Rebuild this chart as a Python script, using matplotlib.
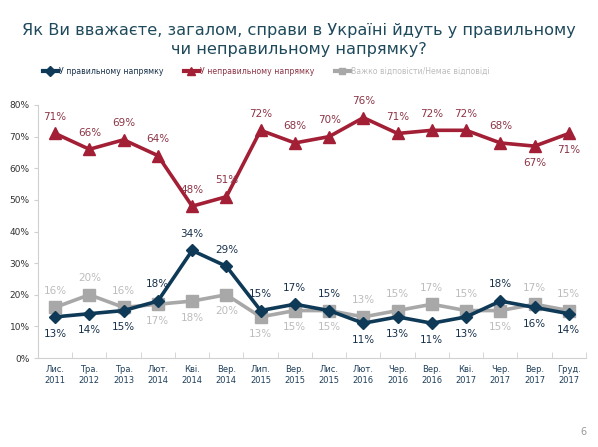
import numpy as np
import matplotlib.pyplot as plt
from matplotlib.lines import Line2D

# Data
periods = ["Лис.\n2011", "Тра.\n2012", "Тра.\n2013", "Лют.\n2014", "Кві.\n2014", "Вер.\n2014",
           "Лип.\n2015", "Вер.\n2015", "Лис.\n2015", "Лют.\n2016", "Чер.\n2016", "Вер.\n2016",
           "Кві.\n2017", "Чер.\n2017", "Вер.\n2017", "Груд.\n2017"]
right_dir = [13, 14, 15, 18, 34, 29, 15, 17, 15, 11, 13, 11, 13, 18, 16, 14]
wrong_dir = [71, 66, 69, 64, 48, 51, 72, 68, 70, 76, 71, 72, 72, 68, 67, 71]
hard_say = [16, 20, 16, 17, 18, 20, 13, 15, 15, 13, 15, 17, 15, 15, 17, 15]

# label side: 1 above, -1 below
right_side = [-1, -1, -1, 1, 1, 1, 1, 1, 1, -1, -1, -1, -1, 1, -1, -1]
wrong_side = [1, 1, 1, 1, 1, 1, 1, 1, 1, 1, 1, 1, 1, 1, -1, -1]
hard_side = [1, 1, 1, -1, -1, -1, -1, -1, -1, 1, 1, 1, 1, -1, 1, 1]

c_right = "#0f3a57"
c_wrong = "#a21f35"
c_hard = "#a8a8a8"

plt.rcParams["font.family"] = ["DejaVu Sans"]

fig = plt.figure(figsize=(5.98, 4.47), dpi=100)
ax = fig.add_axes([38 / 598, (447 - 358) / 447, (586 - 38) / 598, (358 - 105) / 447])

x = np.arange(len(periods))

ax.plot(x, hard_say, color=c_hard, lw=2.6, marker="s", ms=8, zorder=2)
ax.plot(x, right_dir, color=c_right, lw=2.6, marker="D", ms=6.5, zorder=3)
ax.plot(x, wrong_dir, color=c_wrong, lw=2.6, marker="^", ms=9, zorder=3)

def put_labels(vals, sides, color):
    for xi, v, s in zip(x, vals, sides):
        ax.annotate(f"{v}%", (xi, v), xytext=(0, 12 * s), textcoords="offset points",
                    ha="center", va="center", fontsize=7.5, color=color, zorder=5)

put_labels(right_dir, right_side, "#17304a")
put_labels(wrong_dir, wrong_side, "#8c3446")
put_labels(hard_say, hard_side, "#bcbcbc")

ax.set_xlim(-0.5, len(periods) - 0.5)
ax.set_ylim(0, 80)
ax.set_yticks(range(0, 81, 10))
ax.set_yticklabels([f"{t}%" for t in range(0, 81, 10)], fontsize=6.5, color="#333333")
ax.set_xticks(x)
ax.set_xticklabels(periods, fontsize=6, color="#1f3f5a", linespacing=1.3)
ax.set_xticks(np.arange(-0.5, len(periods), 1), minor=True)
ax.tick_params(axis="x", which="major", length=0, pad=5)
ax.tick_params(axis="x", which="minor", length=4, direction="in", color="#d0d0d0")
ax.tick_params(axis="y", length=3, color="#d0d0d0", pad=3)

for sp in ["top", "right"]:
    ax.spines[sp].set_visible(False)
ax.spines["left"].set_color("#d0d0d0")
ax.spines["bottom"].set_color("#d0d0d0")

fig.text(0.5, 1 - 40 / 447, "Як Ви вважаєте, загалом, справи в Україні йдуть у правильному\nчи неправильному напрямку?",
         ha="center", va="center", fontsize=11.6, color="#1f4a5c", linespacing=1.3)

handles = [
    Line2D([0], [0], color=c_right, lw=3, marker="D", ms=5),
    Line2D([0], [0], color=c_wrong, lw=3, marker="^", ms=6),
    Line2D([0], [0], color=c_hard, lw=3, marker="s", ms=5),
]
leg = fig.legend(handles, ["У правильному напрямку", "У неправильному напрямку", "Важко відповісти/Немає відповіді"],
                 loc="center", bbox_to_anchor=(266 / 598, 1 - 71 / 447), ncol=3, frameon=False,
                 fontsize=5.6, handlelength=2.0, handletextpad=0.1, columnspacing=2.6)
for t, c in zip(leg.get_texts(), ["#17304a", "#8c3446", "#bcbcbc"]):
    t.set_color(c)

fig.text(583 / 598, 1 - 432 / 447, "6", fontsize=7, color="#999999", ha="center", va="center")

fig.savefig("out.png", dpi=100)
